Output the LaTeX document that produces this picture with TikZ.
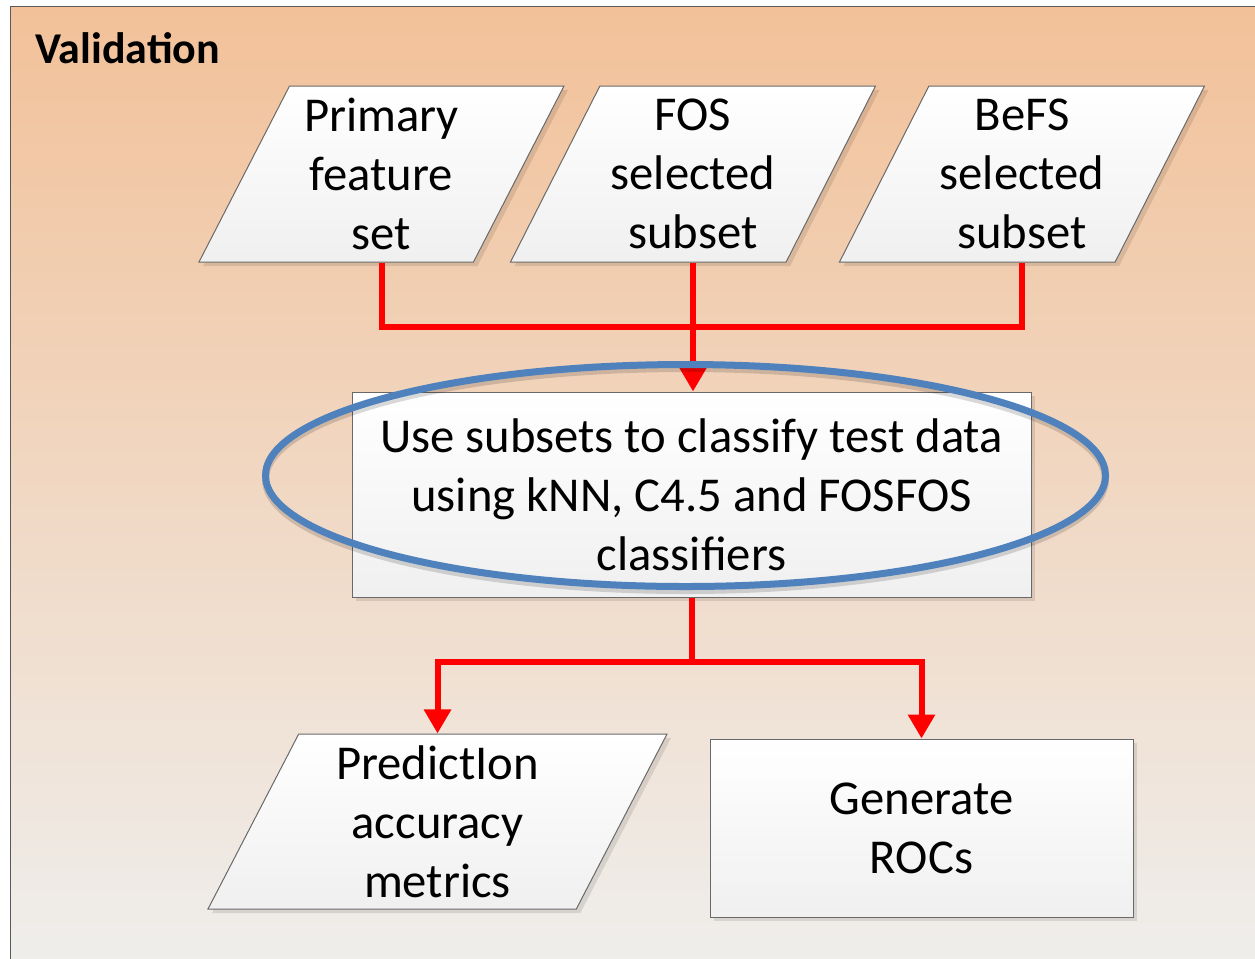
\documentclass[tikz,border=0pt]{standalone}
\usepackage{fontspec}
\setmainfont{Carlito}
\usetikzlibrary{shapes.geometric,shadows,arrows.meta}

\definecolor{bgtop}{RGB}{242,193,153}
\definecolor{bgbot}{RGB}{239,238,236}
\definecolor{ovalblue}{RGB}{79,129,189}
\definecolor{edgegray}{RGB}{105,105,105}

\begin{document}
\begin{tikzpicture}[x=0.75pt, y=-0.75pt,
  every node/.style={font=\fontsize{36.5pt}{44.25pt}\selectfont, align=center, inner sep=0pt},
  box/.style={draw=edgegray, line width=0.75pt, top color=white, bottom color=black!6,
    drop shadow={shadow xshift=3pt, shadow yshift=-3pt, fill=black, opacity=.1}},
  io/.style={box, trapezium, trapezium left angle=59.2, trapezium right angle=120.8,
    trapezium stretches body, minimum width=273.75pt, minimum height=132pt},
  proc/.style={box, rectangle},
  link/.style={draw=red, line width=4.5pt},
  arrowed/.style={-{Triangle[width=19.5pt,length=18pt]}}]
\useasboundingbox (0,0) rectangle (1255,958);
\path[draw=black!65, top color=bgtop, bottom color=bgbot] (10,6) rectangle (1262,964);
\node[anchor=base west, font=\fontsize{33pt}{38pt}\selectfont\bfseries] (title) at (35,63) {Validation};

% feature sets
\node[io] (prim) at (381.5,174) {Primary\\feature\\set};
\node[io] (fos) at (693,174) {FOS\\selected\\subset};
\node[io] (befs) at (1022,174) {BeFS\\selected\\subset};

\node[proc, minimum width=509.25pt, minimum height=153.75pt] (task) at (691.5,494.5) {Use subsets to classify test data\\using kNN, C4.5 and FOSFOS\\classifiers};

% results
\node[io, minimum width=344.25pt, minimum height=131.25pt] (pred) at (437.5,821.5) {PredictIon\\accuracy\\metrics};
\node[proc, minimum width=317.25pt, minimum height=133.5pt] (rocs) at (921.5,828) {Generate\\ROCs};

\path (fos.south) ++(0,64) coordinate (merge);
\draw[link] (prim.south) |- (merge) -| (befs.south);
\draw[link, arrowed] (fos.south) -- (fos.south |- task.north);

\path (task.south) ++(0,64) coordinate (fork);
\draw[link] (task.south) -- (fork);
\draw[link, arrowed] (fork) -| (pred.north);
\draw[link, arrowed] (fork) -| (rocs.north);

% highlight
\node[ellipse, draw=black, opacity=.15, line width=5.25pt, minimum width=630pt, minimum height=166.5pt] (ovalshade) at (685.5,479.5) {};
\node[ellipse, draw=ovalblue, line width=5.25pt, minimum width=630pt, minimum height=166.5pt] (oval) at (685.5,475.5) {};
\end{tikzpicture}
\end{document}
